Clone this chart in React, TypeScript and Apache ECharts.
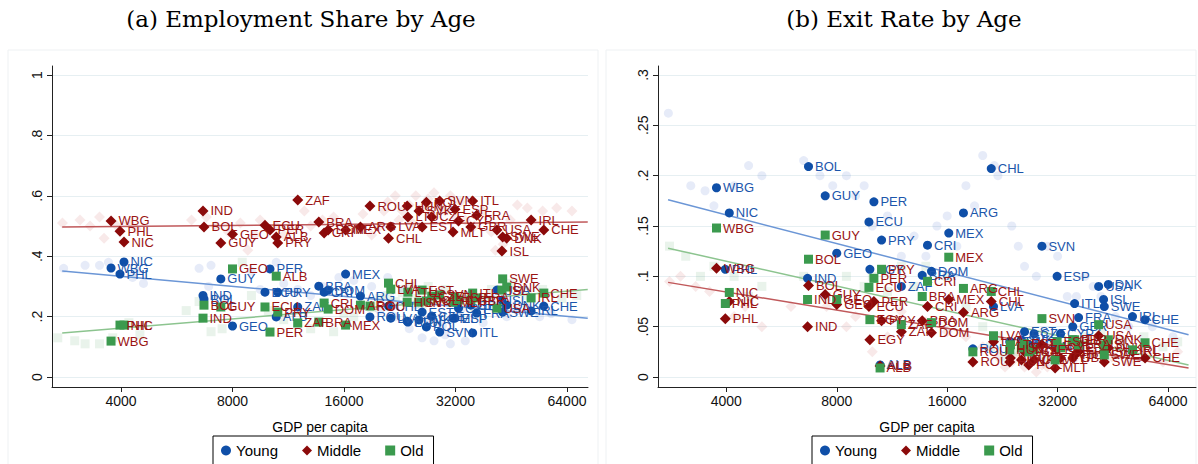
import { useEffect, useRef } from 'react'
import * as echarts from 'echarts'

// countries and GDP per capita (shared by both panels)
const countries = ['WBG', 'PHL', 'NIC', 'IND', 'BOL', 'GUY', 'GEO', 'EGY', 'ECU', 'PER', 'ALB', 'PRY', 'ZAF', 'BRA', 'CRI', 'DOM', 'MEX', 'ARG', 'ROU', 'CHL', 'LVA', 'HUN', 'LTU', 'SVK', 'EST', 'POL', 'CZE', 'SVN', 'MLT', 'ESP', 'CYP', 'GBR', 'ITL', 'FRA', 'USA', 'ISL', 'SWE', 'DNK', 'IRL', 'CHE']
const gdp = [3760, 3975, 4075, 6660, 6700, 7440, 8000, 9850, 9790, 10100, 10500, 10600, 12000, 13680, 14140, 14500, 16160, 17720, 18800, 21100, 21400, 23700, 23800, 25500, 26000, 26700, 27600, 29000, 31500, 31900, 32600, 35200, 35600, 36500, 41400, 42700, 42900, 44000, 51200, 55400]

// (a) employment share
const shareYoung = [0.361, 0.341, 0.381, 0.27, 0.258, 0.325, 0.169, null, 0.281, 0.358, 0.199, 0.281, 0.232, 0.301, 0.281, 0.288, 0.341, 0.268, 0.199, 0.235, 0.195, 0.185, 0.182, 0.189, 0.215, 0.166, 0.202, 0.149, 0.195, 0.195, 0.228, 0.238, 0.146, 0.212, 0.288, 0.255, 0.215, 0.238, 0.219, 0.235]
const shareMiddle = [0.517, 0.483, 0.447, 0.55, 0.497, 0.444, 0.473, null, 0.503, 0.487, 0.464, 0.444, 0.586, 0.513, 0.477, 0.487, 0.487, 0.497, 0.566, 0.46, 0.497, 0.566, 0.53, 0.55, 0.497, 0.579, 0.53, 0.583, 0.48, 0.556, 0.517, 0.497, 0.583, 0.536, 0.487, 0.417, 0.464, 0.46, 0.52, 0.487]
const shareOld = [0.119, 0.172, 0.172, 0.195, 0.238, 0.232, 0.358, null, 0.232, 0.149, 0.334, 0.215, 0.179, 0.182, 0.245, 0.225, 0.172, 0.238, 0.235, 0.311, 0.291, 0.248, 0.281, 0.248, 0.288, 0.252, 0.268, 0.272, 0.248, 0.265, 0.255, 0.255, 0.278, 0.262, 0.228, 0.288, 0.325, 0.298, 0.262, 0.278]

// (b) exit rate
const exitYoung = [0.188, 0.107, 0.163, 0.098, 0.209, 0.18, 0.123, 0.107, 0.154, 0.174, 0.012, 0.136, 0.09, 0.101, 0.131, 0.105, 0.143, 0.163, 0.028, 0.207, 0.07, 0.035, 0.035, 0.037, 0.045, 0.032, 0.043, 0.13, 0.03, 0.1, 0.043, 0.05, 0.073, 0.059, 0.09, 0.077, 0.07, 0.092, 0.06, 0.057]
const exitMiddle = [0.108, 0.058, 0.075, 0.05, 0.091, 0.082, 0.072, 0.037, 0.07, 0.075, 0.011, 0.056, 0.045, 0.056, 0.07, 0.044, 0.077, 0.064, 0.015, 0.075, 0.035, 0.015, 0.019, 0.017, 0.025, 0.012, 0.017, 0.032, 0.009, 0.027, 0.019, 0.019, 0.022, 0.025, 0.041, 0.025, 0.015, 0.029, 0.025, 0.019]
const exitOld = [0.148, 0.073, 0.084, 0.077, 0.117, 0.141, 0.077, 0.057, 0.089, 0.098, 0.009, 0.107, 0.052, 0.08, 0.095, 0.054, 0.119, 0.088, 0.025, 0.085, 0.041, 0.027, 0.032, 0.029, 0.033, 0.025, 0.027, 0.058, 0.017, 0.035, 0.029, 0.037, 0.037, 0.032, 0.052, 0.032, 0.022, 0.037, 0.027, 0.034]

// fitted lines (endpoints)
const fitGdp = [2775, 72800]
const fitShareYoung = [0.351, 0.195]
const fitShareMiddle = [0.497, 0.513]
const fitShareOld = [0.146, 0.29]
const fitExitYoung = [0.176, 0.042]
const fitExitMiddle = [0.094, 0.009]
const fitExitOld = [0.128, 0.012]

// faded background observations [gdp, value]
const bgShareYoung = [[2800, 0.36], [3200, 0.37], [3500, 0.37], [3700, 0.38], [4300, 0.33], [4600, 0.31], [4400, 0.35], [6500, 0.36], [6900, 0.3], [7000, 0.37], [7600, 0.26], [9000, 0.35], [9500, 0.29], [10500, 0.38], [11000, 0.31], [12000, 0.29], [13000, 0.27], [14000, 0.3], [15500, 0.33], [17000, 0.32], [19000, 0.3], [20000, 0.22], [21000, 0.33], [22000, 0.2], [23000, 0.29], [24000, 0.16], [25000, 0.24], [26000, 0.13], [27000, 0.19], [28000, 0.12], [29500, 0.17], [30000, 0.14], [31000, 0.11], [32500, 0.2], [33000, 0.22], [34000, 0.12], [36000, 0.21], [38000, 0.18], [40000, 0.26], [42000, 0.24], [44000, 0.2], [47000, 0.22], [50000, 0.23], [54000, 0.2], [58000, 0.21], [66000, 0.19]]
const bgShareMiddle = [[2780, 0.51], [3100, 0.52], [3300, 0.5], [3500, 0.53], [3600, 0.46], [3900, 0.5], [4200, 0.51], [4400, 0.49], [6200, 0.52], [6800, 0.53], [7200, 0.5], [7800, 0.48], [8400, 0.51], [8800, 0.42], [9200, 0.47], [9500, 0.52], [10500, 0.5], [11000, 0.47], [11500, 0.49], [12500, 0.55], [13000, 0.5], [14000, 0.52], [15000, 0.53], [16500, 0.5], [18000, 0.54], [19000, 0.47], [20000, 0.5], [20500, 0.55], [21000, 0.58], [22000, 0.6], [22500, 0.52], [23000, 0.55], [24000, 0.57], [24500, 0.51], [25000, 0.6], [26000, 0.56], [27000, 0.59], [27500, 0.54], [28000, 0.61], [29000, 0.57], [30000, 0.55], [31000, 0.6], [32000, 0.53], [33000, 0.58], [34000, 0.52], [36000, 0.5], [38000, 0.55], [40000, 0.48], [41000, 0.42], [43000, 0.44], [45000, 0.52], [47000, 0.57], [50000, 0.56], [55000, 0.55], [60000, 0.56], [66000, 0.55]]
const bgShareOld = [[2700, 0.13], [3000, 0.12], [3200, 0.11], [3500, 0.11], [3800, 0.13], [4200, 0.18], [4500, 0.14], [6000, 0.22], [6500, 0.25], [7000, 0.15], [7500, 0.16], [8500, 0.38], [9000, 0.27], [10000, 0.22], [11000, 0.19], [12000, 0.18], [13000, 0.16], [15000, 0.15], [16000, 0.21], [17000, 0.2], [19000, 0.23], [20000, 0.26], [21000, 0.27], [22000, 0.25], [23000, 0.28], [24000, 0.3], [25000, 0.26], [26000, 0.24], [27000, 0.3], [28000, 0.25], [29000, 0.27], [30000, 0.29], [31000, 0.25], [33000, 0.24], [34500, 0.27], [36000, 0.23], [38000, 0.26], [40000, 0.29], [45000, 0.31], [50000, 0.27], [55000, 0.29], [62000, 0.26], [68000, 0.27]]
const bgExitYoung = [[2780, 0.262], [3200, 0.19], [3500, 0.185], [3700, 0.17], [4200, 0.19], [4600, 0.21], [5000, 0.2], [6500, 0.215], [7200, 0.2], [7800, 0.19], [8500, 0.2], [9000, 0.18], [9500, 0.19], [10000, 0.15], [11000, 0.16], [12000, 0.12], [13000, 0.14], [14000, 0.12], [15000, 0.15], [16000, 0.16], [17000, 0.13], [18000, 0.19], [19000, 0.17], [20000, 0.22], [21500, 0.21], [22000, 0.2], [24000, 0.15], [25000, 0.13], [26000, 0.11], [28000, 0.1], [30000, 0.13], [32000, 0.12], [34000, 0.08], [36000, 0.08], [38000, 0.1], [40000, 0.09], [42000, 0.08], [46000, 0.06], [50000, 0.05], [58000, 0.05], [66000, 0.04]]
const bgExitMiddle = [[2800, 0.095], [3000, 0.1], [3300, 0.09], [3600, 0.085], [4200, 0.06], [4500, 0.07], [5000, 0.05], [6000, 0.07], [7500, 0.07], [8500, 0.05], [9000, 0.06], [10000, 0.025], [11000, 0.04], [12000, 0.065], [14000, 0.055], [16000, 0.045], [18000, 0.04], [20000, 0.03], [22000, 0.02], [23000, 0.01], [24000, 0.015], [25000, 0.022], [26000, 0.01], [27000, 0.018], [28000, 0.005], [29000, 0.012], [30000, 0.01], [33000, 0.015], [36000, 0.02], [40000, 0.025], [45000, 0.02], [50000, 0.015], [56000, 0.02], [62000, 0.015], [68000, 0.025]]
const bgExitOld = [[2800, 0.13], [3100, 0.12], [3400, 0.1], [3700, 0.11], [4200, 0.1], [4600, 0.08], [5000, 0.09], [6500, 0.1], [7500, 0.08], [8500, 0.1], [9500, 0.09], [10000, 0.1], [11000, 0.085], [12000, 0.11], [13000, 0.09], [14000, 0.11], [16000, 0.1], [18000, 0.07], [20000, 0.05], [21000, 0.03], [22000, 0.04], [23000, 0.02], [24000, 0.035], [25000, 0.025], [26000, 0.03], [28000, 0.025], [29500, 0.02], [31000, 0.035], [34000, 0.03], [38000, 0.04], [42000, 0.045], [48000, 0.035], [55000, 0.04], [62000, 0.03], [68000, 0.035]]

const xTicks = [4000, 8000, 16000, 32000, 64000]
const shareTicks = [0, 0.2, 0.4, 0.6, 0.8, 1]
const exitTicks = [0, 0.05, 0.1, 0.15, 0.2, 0.25, 0.3]

const BLUE = '#0f4fa8'
const RED = '#8b0a0a'
const GREEN = '#3b9a4e'
const FONT = '"Liberation Sans", Arial, sans-serif'

const groups = [
  { name: 'Young', symbol: 'circle', size: 9, color: BLUE, label: '#1c56ab', bg: 'rgba(60,100,200,0.16)', line: '#6b96d6' },
  { name: 'Middle', symbol: 'diamond', size: 11, color: RED, label: '#9a1414', bg: 'rgba(190,60,60,0.14)', line: '#c0585a' },
  { name: 'Old', symbol: 'rect', size: 9, color: GREEN, label: '#9a1414', bg: 'rgba(60,150,80,0.14)', line: '#8cc48f' },
]

const toPts = (vals: (number | null)[]) =>
  countries.flatMap((c, i) => (vals[i] == null ? [] : [{ name: c, value: [Math.log2(gdp[i]), vals[i]] }]))

const yFmt = (v: number) => (v === 0 ? '0' : v === 1 ? '1' : String(v).replace(/^0/, ''))

export default function App() {
  const ref = useRef<HTMLDivElement>(null)

  useEffect(() => {
    if (!ref.current) return
    const chart = echarts.init(ref.current, undefined, { renderer: 'svg' })

    const panels = [
      { main: [shareYoung, shareMiddle, shareOld], bg: [bgShareYoung, bgShareMiddle, bgShareOld], fit: [fitShareYoung, fitShareMiddle, fitShareOld] },
      { main: [exitYoung, exitMiddle, exitOld], bg: [bgExitYoung, bgExitMiddle, bgExitOld], fit: [fitExitYoung, fitExitMiddle, fitExitOld] },
    ]

    const series: any[] = []
    panels.forEach((p, pi) => {
      groups.forEach((g, gi) => {
        series.push({
          type: 'scatter', name: g.name + ' bg', xAxisIndex: pi, yAxisIndex: pi, silent: true, z: 1,
          symbol: g.symbol, symbolSize: g.size,
          itemStyle: { color: g.bg },
          data: p.bg[gi].map(([x, y]) => [Math.log2(x), y]),
        })
      })
      groups.forEach((g, gi) => {
        series.push({
          type: 'line', name: g.name + ' fit', xAxisIndex: pi, yAxisIndex: pi, z: 2,
          showSymbol: false, symbol: 'none',
          lineStyle: { color: g.line, width: 1.5 },
          data: fitGdp.map((x, k) => [Math.log2(x), p.fit[gi][k]]),
        })
      })
      groups.forEach((g, gi) => {
        series.push({
          type: 'scatter', name: g.name, xAxisIndex: pi, yAxisIndex: pi, z: 3 + gi,
          symbol: g.symbol, symbolSize: g.size,
          itemStyle: { color: g.color, opacity: 1 },
          label: {
            show: true, position: 'right', distance: 2, formatter: '{b}',
            color: g.label, fontSize: 13, fontFamily: FONT,
          },
          data: toPts(p.main[gi]),
        })
      })
    })

    const xAxisBase = (gi: number) => ({
      type: 'value',
      gridIndex: gi,
      position: 'bottom',
      min: 11.347,
      max: gi === 0 ? 16.154 : 16.219,
      name: 'GDP per capita',
      nameLocation: 'middle',
      nameGap: 33,
      nameTextStyle: { color: '#000', fontSize: 14, fontFamily: FONT },
      axisLine: { show: true, onZero: false, lineStyle: { color: '#222', width: 1 } },
      axisTick: { show: true, length: 5, customValues: xTicks.map(Math.log2), lineStyle: { color: '#222' } },
      axisLabel: {
        customValues: xTicks.map(Math.log2), margin: 7, color: '#111', fontSize: 14, fontFamily: FONT,
        formatter: (v: number) => String(Math.round(Math.pow(2, v))),
      },
      splitLine: { show: false },
    })

    const yAxisBase = (gi: number, ticks: number[], min: number, max: number) => ({
      type: 'value',
      gridIndex: gi,
      position: 'left',
      min, max,
      axisLine: { show: true, onZero: false, lineStyle: { color: '#222', width: 1 } },
      axisTick: { show: true, length: 5, customValues: ticks, lineStyle: { color: '#222' } },
      axisLabel: { customValues: ticks, rotate: 90, margin: 8, color: '#111', fontSize: 14, fontFamily: FONT, formatter: yFmt },
      splitLine: { show: true, lineStyle: { color: '#e6eff2', width: 1 } },
    })

    const legendBase = (left: number) => ({
      left, top: 436,
      orient: 'horizontal',
      data: [
        { name: 'Young', icon: 'circle' },
        { name: 'Middle', icon: 'diamond' },
        { name: 'Old', icon: 'rect' },
      ],
      itemWidth: 10, itemHeight: 10, itemGap: 24,
      padding: [7, 10, 12, 8],
      borderColor: '#000', borderWidth: 1,
      textStyle: { fontSize: 15, color: '#000', fontFamily: FONT },
      selectedMode: false,
    })

    const titleFont = '23px "DejaVu Serif", serif'

    chart.setOption({
      animation: false,
      backgroundColor: '#fff',
      graphic: [
        { type: 'rect', shape: { x: 8, y: 50, width: 590, height: 420 }, style: { fill: 'none', stroke: '#eef1f3' }, silent: true },
        { type: 'rect', shape: { x: 606, y: 50, width: 590, height: 420 }, style: { fill: 'none', stroke: '#eef1f3' }, silent: true },
        { type: 'text', x: 301, y: 7, style: { text: '(a) Employment Share by Age', font: titleFont, fill: '#000', textAlign: 'center' } },
        { type: 'text', x: 904, y: 7, style: { text: '(b) Exit Rate by Age', font: titleFont, fill: '#000', textAlign: 'center' } },
      ],
      grid: [
        { left: 52, top: 66, width: 536, height: 321 },
        { left: 658, top: 66, width: 538, height: 321 },
      ],
      xAxis: [xAxisBase(0), xAxisBase(1)],
      yAxis: [yAxisBase(0, shareTicks, -0.033, 1.03), yAxisBase(1, exitTicks, -0.0099, 0.3089)],
      legend: [legendBase(213), legendBase(812)],
      series,
    })

    return () => {
      chart.dispose()
    }
  }, [])

  return <div ref={ref} style={{ position: 'fixed', left: 0, top: 0, width: 1198, height: 464 }} />
}
